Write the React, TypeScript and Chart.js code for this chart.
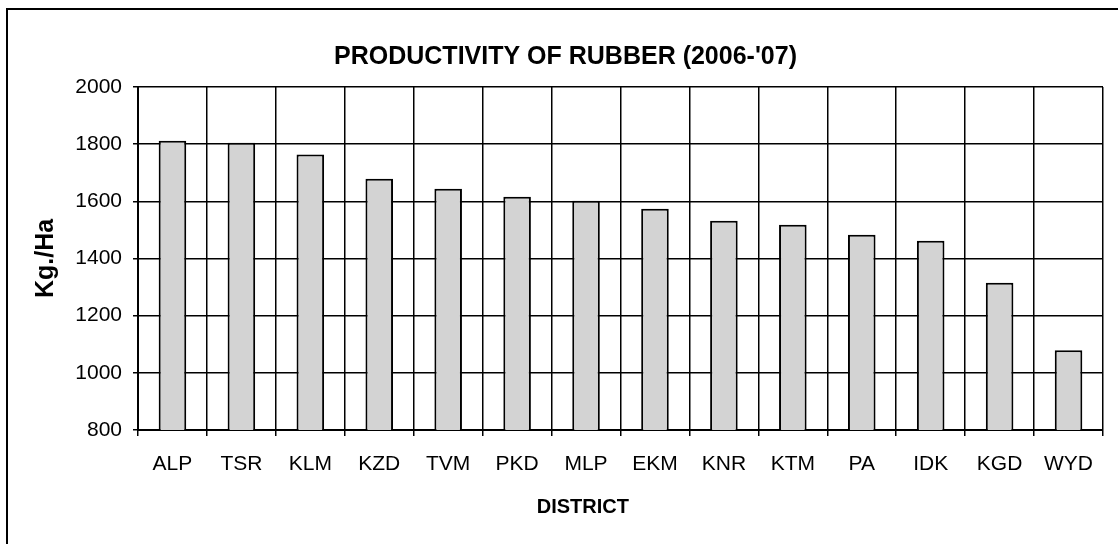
import React, { useEffect, useRef } from "react";
import { Chart, registerables } from "chart.js";

Chart.register(...registerables);

const categories = ["ALP", "TSR", "KLM", "KZD", "TVM", "PKD", "MLP", "EKM", "KNR", "KTM", "PA", "IDK", "KGD", "WYD"];
const productivity = [1812, 1805, 1764, 1679, 1644, 1616, 1602, 1574, 1532, 1518, 1483, 1462, 1315, 1079];
const yMin = 800;
const yMax = 2000;
const yStep = 200;
const chartTitle = "PRODUCTIVITY OF RUBBER (2006-'07)";
const yTitle = "Kg./Ha";
const xTitle = "DISTRICT";

const FONT = "'Liberation Sans', Arial, Helvetica, sans-serif";

const xTitlePlugin = {
  id: "xTitleText",
  afterDraw(chart: any) {
    const { ctx, chartArea } = chart;
    ctx.save();
    ctx.font = `bold 20px ${FONT}`;
    ctx.fillStyle = "#000";
    ctx.textAlign = "center";
    ctx.textBaseline = "middle";
    const x = chartArea.left + (chartArea.right - chartArea.left) * 0.461;
    ctx.fillText(xTitle, x, chartArea.bottom + 77);
    ctx.restore();
  },
};

export default function App() {
  const ref = useRef<HTMLCanvasElement | null>(null);

  useEffect(() => {
    if (!ref.current) return;
    const chart = new Chart(ref.current, {
      type: "bar",
      data: {
        labels: categories,
        datasets: [
          {
            data: productivity,
            backgroundColor: "#d3d3d3",
            borderColor: "#000000",
            borderWidth: 2,
            barPercentage: 0.4,
            categoryPercentage: 1,
          },
        ],
      },
      plugins: [xTitlePlugin],
      options: {
        responsive: false,
        animation: false,
        layout: { padding: { left: 28, right: 15, top: 0, bottom: 0 } },
        plugins: {
          legend: { display: false },
          tooltip: { enabled: false },
          title: {
            display: true,
            text: chartTitle,
            color: "#000",
            font: { family: FONT, size: 25, weight: "bold", lineHeight: 1.2 },
            padding: { top: 42, bottom: 15 },
          },
        },
        scales: {
          x: {
            grid: { color: "#000", lineWidth: 1.5, tickLength: 6, offset: true },
            border: { color: "#000", width: 2 },
            ticks: { color: "#000", font: { family: FONT, size: 21 }, padding: 16, maxRotation: 0, autoSkip: false },
            afterFit: (scale: any) => {
              scale.height = 114;
            },
          },
          y: {
            min: yMin,
            max: yMax,
            grid: { color: "#000", lineWidth: 1.5, tickLength: 5 },
            border: { color: "#000", width: 2 },
            ticks: {
              color: "#000",
              stepSize: yStep,
              font: { family: FONT, size: 21 },
              padding: 11,
              callback: (v: any) => String(v),
            },
            title: {
              display: true,
              text: yTitle,
              color: "#000",
              font: { family: FONT, size: 25, weight: "bold", lineHeight: 1.2 },
              padding: { top: 3, bottom: 0 },
            },
            afterFit: (scale: any) => {
              scale.width = 110;
            },
          },
        },
      },
    });
    return () => chart.destroy();
  }, []);

  return (
    <div>
      <div
        style={{
          position: "fixed",
          left: 6,
          top: 8,
          width: 1400,
          height: 800,
          border: "2px solid #000",
          boxSizing: "border-box",
        }}
      />
      <canvas
        ref={ref}
        width={1118}
        height={544}
        style={{ position: "fixed", left: 0, top: 0, width: 1118, height: 544 }}
      />
    </div>
  );
}
